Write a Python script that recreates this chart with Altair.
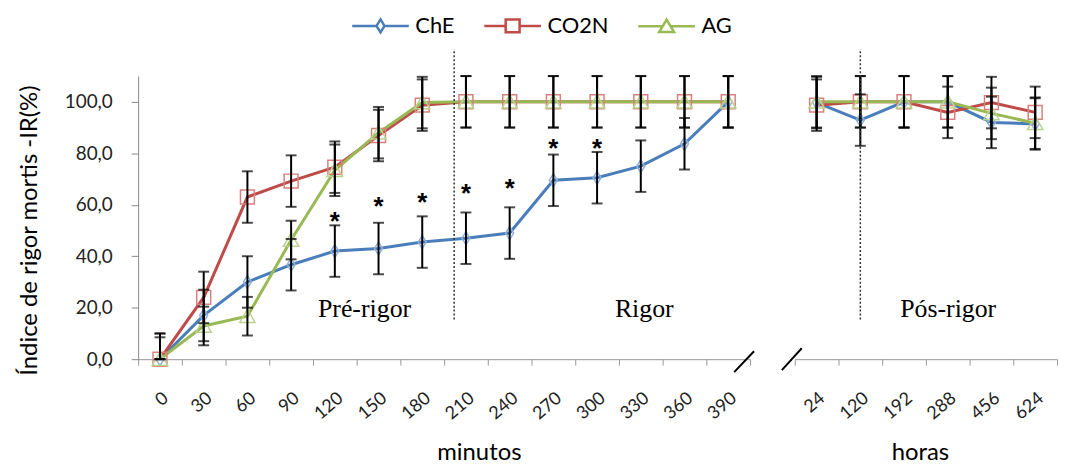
import altair as alt
import pandas as pd

# ---------------- data ----------------
minutes = ["0", "30", "60", "90", "120", "150", "180", "210", "240", "270", "300", "330", "360", "390"]
hours = ["24", "120", "192", "288", "456", "624"]
series = ["ChE", "CO2N", "AG"]

che_min = [0.0, 17.0, 30.0, 36.7, 42.0, 43.0, 45.5, 47.0, 49.0, 69.5, 70.5, 75.0, 83.7, 100.0]
co2n_min = [0.0, 24.0, 63.0, 69.2, 74.6, 86.9, 98.7, 100.0, 100.0, 100.0, 100.0, 100.0, 100.0, 100.0]
ag_min = [0.0, 12.9, 16.7, 46.3, 73.4, 88.0, 99.7, 100.0, 100.0, 100.0, 100.0, 100.0, 100.0, 100.0]
che_min_err = [10.0, 10.0, 10.0, 10.0, 10.0, 10.0, 10.0, 10.0, 10.0, 10.0, 10.0, 10.0, 10.0, 10.0]
co2n_min_err = [8.5, 10.0, 10.0, 10.0, 10.0, 10.0, 10.0, 10.0, 10.0, 10.0, 10.0, 10.0, 10.0, 10.0]
ag_min_err = [10.0, 7.5, 7.5, 7.5, 10.0, 10.0, 10.0, 10.0, 10.0, 10.0, 10.0, 10.0, 10.0, 10.0]

che_h = [99.7, 92.9, 100.0, 100.0, 92.0, 91.4]
co2n_h = [98.7, 100.0, 100.0, 95.9, 99.7, 95.9]
ag_h = [100.0, 100.0, 100.0, 100.0, 95.5, 91.7]
che_h_err = [10.0, 10.0, 10.0, 10.0, 10.0, 10.0]
co2n_h_err = [10.0, 10.0, 10.0, 10.0, 10.0, 10.0]
ag_h_err = [10.0, 10.0, 10.0, 10.0, 10.0, 10.0]

star_cats = ["120", "150", "180", "210", "240", "270", "300"]
star_vals = [56.0, 61.8, 63.4, 66.9, 68.8, 84.3, 84.3]

line_colors = ["#4A7EBB", "#BE4B48", "#98B954"]
marker_colors = ["#8EB1DB", "#D9807E", "#BBD28F"]

# ---------------- tables ----------------
def build(cats, vals, errs):
    rows = []
    for si, (s, v, e) in enumerate(zip(series, vals, errs)):
        for ci, c in enumerate(cats):
            rows.append({"cat": c, "series": s, "order": si, "value": v[ci],
                         "lo": max(0.0, v[ci] - e[ci]), "hi": v[ci] + e[ci]})
    return pd.DataFrame(rows)

df_min = build(minutes, [che_min, co2n_min, ag_min], [che_min_err, co2n_min_err, ag_min_err])
df_h = build(hours, [che_h, co2n_h, ag_h], [che_h_err, co2n_h_err, ag_h_err])
df_star = pd.DataFrame({"cat": star_cats, "value": star_vals, "t": ["*"] * len(star_cats)})

BAND = 44
H = 285
WL = BAND * len(minutes)
WR = BAND * len(hours)
YDOM = [0, 110]

FONT = "Lato"

y_enc_left = alt.Y(
    "value:Q",
    scale=alt.Scale(domain=YDOM, nice=False),
    axis=alt.Axis(
        values=[0, 20, 40, 60, 80, 100],
        labelExpr="replace(format(datum.value, '.1f'), '.', ',')",
        title="Índice de rigor mortis -IR(%)",
        titleX=-109, titleY=155, titleAngle=270, titleAlign="center", titleBaseline="middle",
        titleFont=FONT, titleFontSize=24, titleFontWeight="normal", titleColor="black",
        labelFont=FONT, labelFontSize=19, labelColor="#222", labelPadding=19,
        tickSize=7, tickColor="#888", domainColor="#888", grid=False,
    ),
)


def x_axis(title, tx):
    return alt.Axis(
        tickBand="extent", labelAngle=320, labelFont=FONT, labelFontSize=18, labelColor="#222",
        labelPadding=24, tickSize=6, tickColor="#999", domainColor="#999", grid=False,
        title=title, titleX=tx, titleY=94, titleAlign="center", titleBaseline="middle",
        titleFont=FONT, titleFontSize=24, titleFontWeight="normal", titleColor="black",
    )


color_scale = alt.Scale(domain=series, range=line_colors)

diamond = "M0,-1L0.62,0L0,1L-0.62,0Z"
triangle = "M0,-1L1.1,0.9L-1.1,0.9Z"
marker_shapes = [diamond, "square", triangle]
marker_sizes = [169, 196, 196]

# legend glyphs: line + marker, in units of 10 px, extending to the right of the symbol box
legend_paths = [
    "M-1,0L1.45,0M2.25,0L4.7,0M1.85,-0.65L2.25,0L1.85,0.65L1.45,0Z",
    "M-1,0L1.15,0M2.55,0L4.7,0M1.15,-0.65L2.55,-0.65L2.55,0.65L1.15,0.65Z",
    "M-1,0L1.45,0M2.25,0L4.7,0M1.85,-0.65L2.6,0.6L1.1,0.6Z",
]

legend = alt.Legend(
    orient="none", legendX=214, legendY=-62, direction="horizontal", title=None,
    labelFont=FONT, labelFontSize=22, labelColor="black", symbolSize=400,
    symbolStrokeWidth=2.5, labelOffset=42, columnPadding=24,
)


def panel(df, cats, width, yenc, xtitle, xtx, extra):
    xs = alt.Scale(domain=cats, paddingInner=0, paddingOuter=0)
    X = alt.X("cat:N", scale=xs, sort=cats, axis=x_axis(xtitle, xtx))
    base = alt.Chart(df)
    layers = []
    for s, lc in zip(series, line_colors):
        layers.append(
            base.transform_filter(alt.datum.series == s)
            .mark_line(strokeWidth=3, color=lc)
            .encode(x=X, y=yenc)
        )
    for s, shp, sz, mc in zip(series, marker_shapes, marker_sizes, marker_colors):
        layers.append(
            base.transform_filter(alt.datum.series == s)
            .mark_point(shape=shp, size=sz, filled=False, strokeWidth=1.5, color=mc, opacity=1)
            .encode(x=X, y="value:Q")
        )
    layers.append(base.mark_rule(color="black", strokeWidth=2).encode(x=X, y="lo:Q", y2="hi:Q"))
    layers.append(base.mark_tick(color="black", size=11, thickness=2).encode(x=X, y="lo:Q"))
    layers.append(base.mark_tick(color="black", size=11, thickness=2).encode(x=X, y="hi:Q"))
    layers += extra(X, xs)
    return alt.layer(*layers).properties(width=width, height=H)


def left_extra(X, xs):
    out = []
    out.append(
        alt.Chart(df_star).mark_text(font="Liberation Sans", fontSize=26, fontWeight="bold",
                                     color="black", baseline="alphabetic", dy=15)
        .encode(x=alt.X("cat:N", scale=xs), y="value:Q", text="t:N")
    )
    out.append(
        alt.Chart(pd.DataFrame({"cat": ["150"], "v": [16.2], "t": ["Pré-rigor"]}))
        .mark_text(font="Liberation Serif", fontSize=26, color="black", baseline="alphabetic")
        .encode(x=alt.X("cat:N", scale=xs, bandPosition=0.18), y="v:Q", text="t:N")
    )
    out.append(
        alt.Chart(pd.DataFrame({"cat": ["330"], "v": [16.2], "t": ["Rigor"]}))
        .mark_text(font="Liberation Serif", fontSize=26, color="black", baseline="alphabetic")
        .encode(x=alt.X("cat:N", scale=xs, bandPosition=0.58), y="v:Q", text="t:N")
    )
    out.append(
        alt.Chart(pd.DataFrame({"cat": ["210"], "lo": [15.4], "hi": [120.5]}))
        .mark_rule(color="#333", strokeWidth=1.5, strokeDash=[2, 2])
        .encode(x=alt.X("cat:N", scale=xs, bandPosition=0.23), y="lo:Q", y2="hi:Q")
    )
    out.append(
        alt.Chart(pd.DataFrame({"k": [0]})).mark_rule(color="black", strokeWidth=2)
        .encode(x=alt.value(WL - 16), x2=alt.value(WL + 4), y=alt.value(H + 13), y2=alt.value(H - 8))
    )
    out.append(
        alt.Chart(pd.DataFrame({"series": series})).transform_filter("false")
        .mark_point(filled=False, strokeWidth=2.5, opacity=1)
        .encode(
            color=alt.Color("series:N", scale=color_scale, legend=legend),
            shape=alt.Shape("series:N", scale=alt.Scale(domain=series, range=legend_paths), legend=legend),
        )
    )
    return out


def right_extra(X, xs):
    out = []
    out.append(
        alt.Chart(pd.DataFrame({"cat": ["288"], "v": [16.2], "t": ["Pós-rigor"]}))
        .mark_text(font="Liberation Serif", fontSize=26, color="black", baseline="alphabetic")
        .encode(x=alt.X("cat:N", scale=xs, bandPosition=0.51), y="v:Q", text="t:N")
    )
    out.append(
        alt.Chart(pd.DataFrame({"cat": ["120"], "lo": [15.4], "hi": [120.5]}))
        .mark_rule(color="#333", strokeWidth=1.5, strokeDash=[2, 2])
        .encode(x=alt.X("cat:N", scale=xs, bandPosition=0.5), y="lo:Q", y2="hi:Q")
    )
    out.append(
        alt.Chart(pd.DataFrame({"k": [0]})).mark_rule(color="black", strokeWidth=2)
        .encode(x=alt.value(-13), x2=alt.value(7), y=alt.value(H + 11), y2=alt.value(H - 11))
    )
    return out


y_enc_right = alt.Y("value:Q", scale=alt.Scale(domain=YDOM, nice=False), axis=None)

left = panel(df_min, minutes, WL, y_enc_left, "minutos", 343, left_extra)
right = panel(df_h, hours, WR, y_enc_right, "horas", 126, right_extra)

chart = (
    alt.hconcat(left, right, spacing=45, bounds="flush")
    .resolve_scale(x="independent")
    .properties(padding={"left": 10, "top": 5, "right": 2, "bottom": 0})
    .configure_view(stroke=None)
)

chart.save("out.html", embed_options={"renderer": "svg", "actions": False})
